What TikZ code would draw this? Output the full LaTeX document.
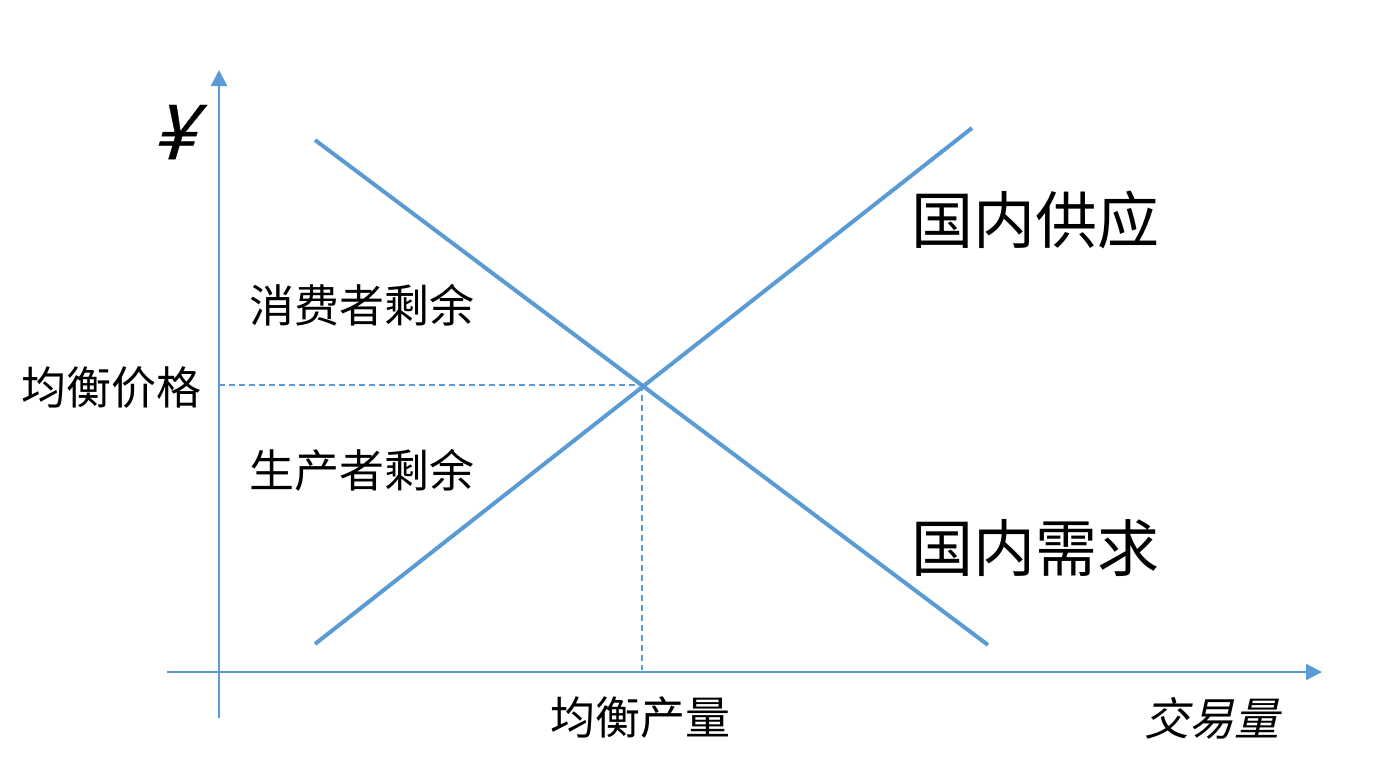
\documentclass[tikz,border=0pt]{standalone}
\usepackage{fontspec}
\newfontfamily\cjk{Noto Sans CJK SC}
\newfontfamily\cjkit[FakeSlant=0.22]{Noto Sans CJK SC}
\newfontfamily\yenfont[FakeSlant=0.3,FakeBold=0.4]{Noto Sans CJK SC}
\usetikzlibrary{arrows.meta}
\definecolor{lineblue}{HTML}{5B9BD5}
\tikzset{
  axis/.style={lineblue, line width=1.2pt, -{Triangle[length=8pt,width=8pt]}},
  curve/.style={lineblue, line width=2pt},
  guide/.style={lineblue, line width=0.6pt, dash pattern=on 3pt off 2pt},
  lbl/.style={inner sep=0pt, font=\cjk\fontsize{22.5pt}{24pt}\selectfont},
  biglbl/.style={inner sep=0pt, font=\cjk\fontsize{31pt}{33pt}\selectfont}
}
\begin{document}
\begin{tikzpicture}[x=0.5pt,y=-0.5pt]
\useasboundingbox (0,0) rectangle (1385,777);
\coordinate (yb) at (219,718);
\coordinate (yt) at (219,70);
\coordinate (xl) at (167,672);
\coordinate (xr) at (1322,672);
\draw[axis] (yb) -- (yt);
\draw[axis] (xl) -- (xr);
\coordinate (s1) at (315,644);
\coordinate (s2) at (972,128);
\coordinate (d1) at (315,140);
\coordinate (d2) at (988,645);
\draw[curve] (s1) -- (s2);
\draw[curve] (d1) -- (d2);
\coordinate (eq) at (642,385);
\coordinate (ey) at (219,385);
\coordinate (ex) at (642,670);
\draw[guide] (ey) -- (eq);
\draw[guide] (eq) -- (ex);
\node[inner sep=0pt, font=\yenfont\fontsize{38pt}{40pt}\selectfont] (yen) at (172,132) {¥};
\node[biglbl] (sup) at (1035,220) {国内供应};
\node[biglbl] (dem) at (1035,548) {国内需求};
\node[lbl] (cs) at (362,305) {消费者剩余};
\node[lbl] (ps) at (362,470) {生产者剩余};
\node[lbl] (ep) at (111,388) {均衡价格};
\node[lbl] (eqq) at (640,718) {均衡产量};
\node[inner sep=0pt, font=\cjkit\fontsize{22.5pt}{24pt}\selectfont] (tq) at (1212,718) {交易量};
\end{tikzpicture}
\end{document}
